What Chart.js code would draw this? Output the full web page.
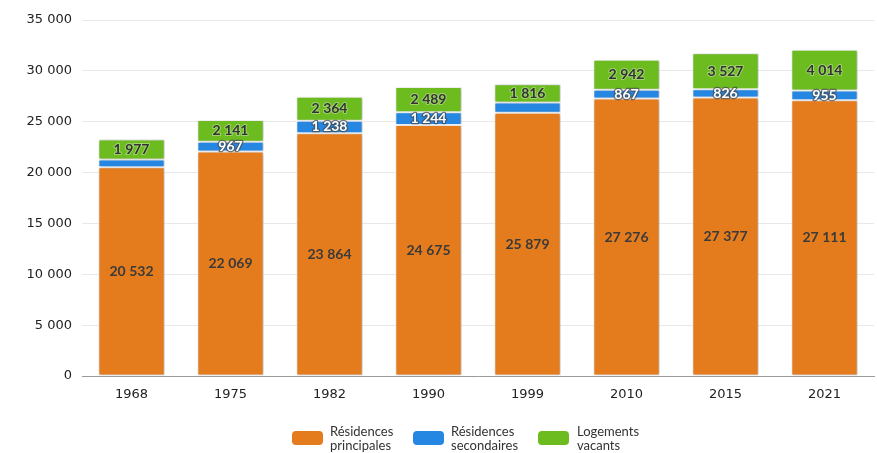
<!DOCTYPE html>
<html><head><meta charset="utf-8">
<script src="https://cdn.jsdelivr.net/npm/chart.js@4.4.1/dist/chart.umd.min.js"></script>
<style>
html,body{margin:0;padding:0;background:#fff;}
#wrap{position:relative;width:877px;height:453px;}
.lg{position:absolute;top:424px;font-family:Lato,"DejaVu Sans",sans-serif;font-size:13px;line-height:14px;color:#333;}
.sw{position:absolute;width:31px;height:14px;border-radius:4px;top:431px;}
</style></head>
<body>
<div id="wrap">
<canvas id="c" width="877" height="453"></canvas>
<div class="sw" style="left:292px;background:#e47b1d"></div>
<div class="lg" style="left:330px">Résidences<br>principales</div>
<div class="sw" style="left:413px;background:#2587e2"></div>
<div class="lg" style="left:451px">Résidences<br>secondaires</div>
<div class="sw" style="left:538px;background:#6cbb1f"></div>
<div class="lg" style="left:577px">Logements<br>vacants</div>
</div>
<script>
const categories = ["1968","1975","1982","1990","1999","2010","2015","2021"];
const residencesPrincipales = [20532,22069,23864,24675,25879,27276,27377,27111];
const residencesSecondaires = [750,967,1238,1244,1000,867,826,955];
const logementsVacants = [1977,2141,2364,2489,1816,2942,3527,4014];
const seriesNames = ["Résidences principales","Résidences secondaires","Logements vacants"];
const yTicks = [0,5000,10000,15000,20000,25000,30000,35000];

const colors = ["#e47b1d","#2587e2","#6cbb1f"];
function fmtLabel(n){return String(n).replace(/\B(?=(\d{3})+(?!\d))/g,'\u202F');}
function fmtTick(n){return String(n).replace(/\B(?=(\d{3})+(?!\d))/g,' ');}

const shadowPlugin = {
  id:'shadow',
  beforeDatasetsDraw(chart){const c=chart.ctx;c.save();c.shadowColor='rgba(0,0,0,0.28)';c.shadowBlur=3;c.shadowOffsetX=1;c.shadowOffsetY=0;},
  afterDatasetsDraw(chart){chart.ctx.restore();}
};
const labelPlugin = {
  id:'vals',
  afterDraw(chart){
    const c=chart.ctx;
    c.save();
    c.textAlign='center';c.textBaseline='middle';
    c.font='bold 14px Lato, "DejaVu Sans", sans-serif';
    categories.forEach((cat,i)=>{
      const el=[0,1,2].map(d=>chart.getDatasetMeta(d).data[i]);
      const cy=el.map(e=>(e.y+e.base)/2);
      const vals=[residencesPrincipales[i],residencesSecondaires[i],logementsVacants[i]];
      // orange
      c.fillStyle='#3a3a3a';
      c.fillText(fmtLabel(vals[0]),el[0].x,cy[0]);
      // green
      c.lineWidth=2;c.strokeStyle='rgba(255,255,255,0.35)';
      c.strokeText(fmtLabel(vals[2]),el[2].x,cy[2]);
      c.fillStyle='#333';
      c.fillText(fmtLabel(vals[2]),el[2].x,cy[2]);
      // blue (hidden when it would overlap the green label)
      if(Math.abs(cy[2]-cy[1])>=15){
        c.lineWidth=2.5;c.strokeStyle='rgba(70,70,70,0.7)';c.lineJoin='round';
        c.strokeText(fmtLabel(vals[1]),el[1].x,cy[1]);
        c.fillStyle='#fff';
        c.fillText(fmtLabel(vals[1]),el[1].x,cy[1]);
      }
    });
    c.restore();
  }
};

const data = {
  labels: categories,
  datasets: [residencesPrincipales,residencesSecondaires,logementsVacants].map((d,k)=>({
    label: seriesNames[k], data: d, backgroundColor: colors[k],
    borderColor:'#ffffff', borderWidth:1, borderSkipped:false,
    categoryPercentage:0.67, barPercentage:1.0
  }))
};

new Chart(document.getElementById('c'),{
  type:'bar',
  data,
  options:{
    responsive:false, animation:false,
    layout:{padding:{top:20,right:3,left:0,bottom:0}},
    plugins:{legend:{display:false},tooltip:{enabled:false}},
    scales:{
      x:{stacked:true, grid:{display:false,drawTicks:false}, border:{display:true,color:'#9a9a9a',width:1},
         ticks:{padding:11,color:'#222',font:{family:'"DejaVu Sans", sans-serif',size:13}},
         afterFit(s){s.height=453-376;}},
      y:{stacked:true, min:0, max:35000,
         afterBuildTicks(s){s.ticks=yTicks.map(v=>({value:v}));},
         grid:{color:'#e8e8e8',drawTicks:false}, border:{display:false},
         ticks:{padding:10,color:'#222',font:{family:'"DejaVu Sans", sans-serif',size:13},callback:v=>fmtTick(v)},
         afterFit(s){s.width=82;}}
    }
  },
  plugins:[shadowPlugin,labelPlugin]
});
</script>
</body></html>
